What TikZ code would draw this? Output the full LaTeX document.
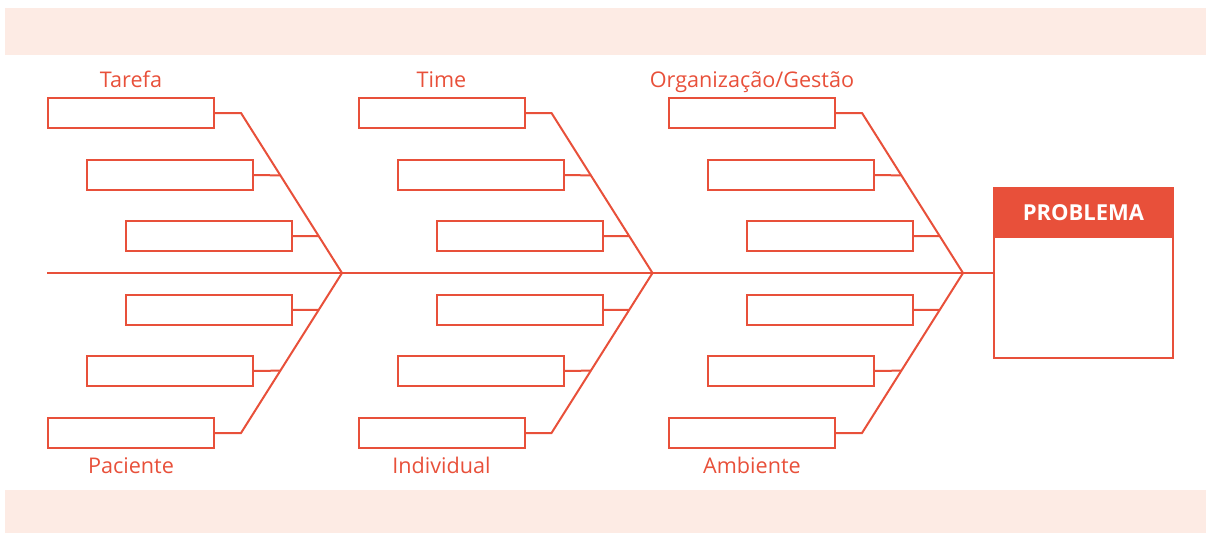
\documentclass[tikz,border=0pt]{standalone}
\usepackage{fontspec}
\setmainfont{Open Sans}
\usetikzlibrary{calc}
\definecolor{fishred}{HTML}{E8503A}
\definecolor{bandpink}{HTML}{FDEBE4}
\tikzset{
  causebox/.style={draw=fishred, line width=2pt, minimum width=166pt, minimum height=30pt,
    inner sep=0pt, outer sep=0pt, anchor=west},
  bone/.style={draw=fishred, line width=2pt},
  causelabel/.style={text=fishred, font=\fontsize{21.6}{24}\selectfont, inner sep=0pt, anchor=base}
}
\begin{document}
\begin{tikzpicture}[x=1pt,y=-1pt]
\useasboundingbox (0,0) rectangle (1206,533);
% Pink bands on top and bottom
\fill[bandpink] (5,8) rectangle (1206,55);
\fill[bandpink] (5,490) rectangle (1206,533);

% Problem box with its header
\node[draw=fishred, line width=2pt, minimum width=179pt, minimum height=170pt,
      inner sep=0pt, outer sep=0pt] (prob) at (1083.5,273) {};
\node[fill=fishred, draw=fishred, line width=2pt, minimum width=179pt, minimum height=49pt,
      inner sep=0pt, outer sep=0pt, anchor=north, text=white,
      font=\bfseries\fontsize{22}{24}\selectfont] (head) at (prob.north) {PROBLEMA};

% Spine
\coordinate (S) at (47,273);

% Three columns of bones, each with six cause boxes
\foreach \c/\dx/\toplabel/\botlabel in {1/0/Tarefa/Paciente, 2/310.5/Time/Individual,
    3/621/Organização\slash Gestão/Ambiente}{
  \coordinate (tip\c) at (342+\dx,273);
  \foreach \r/\xl/\y in {1/48/113, 2/87/175, 3/126/236, 4/126/310, 5/87/371, 6/48/433}
    \node[causebox] (box\c\r) at (\xl+\dx,\y) {};
  \node[causelabel] (top\c) at (131+\dx,87) {\toplabel};
  \node[causelabel] (bot\c) at (131+\dx,473) {\botlabel};
  % upper and lower bone
  \draw[bone] (box\c1.east) -- ++(27,0) coordinate (up\c) -- (tip\c);
  \draw[bone] (box\c6.east) -- ++(27,0) coordinate (lo\c) -- (tip\c);
  % short stubs to the bones
  \draw[bone] (box\c2.east) -- ($(up\c)!0.39!(tip\c)$);
  \draw[bone] (box\c3.east) -- ($(up\c)!0.77!(tip\c)$);
  \draw[bone] (box\c4.east) -- ($(lo\c)!0.77!(tip\c)$);
  \draw[bone] (box\c5.east) -- ($(lo\c)!0.39!(tip\c)$);
}
\draw[bone] (S) -- (tip1) -- (tip2) -- (tip3) -- (prob.west);
\end{tikzpicture}
\end{document}
